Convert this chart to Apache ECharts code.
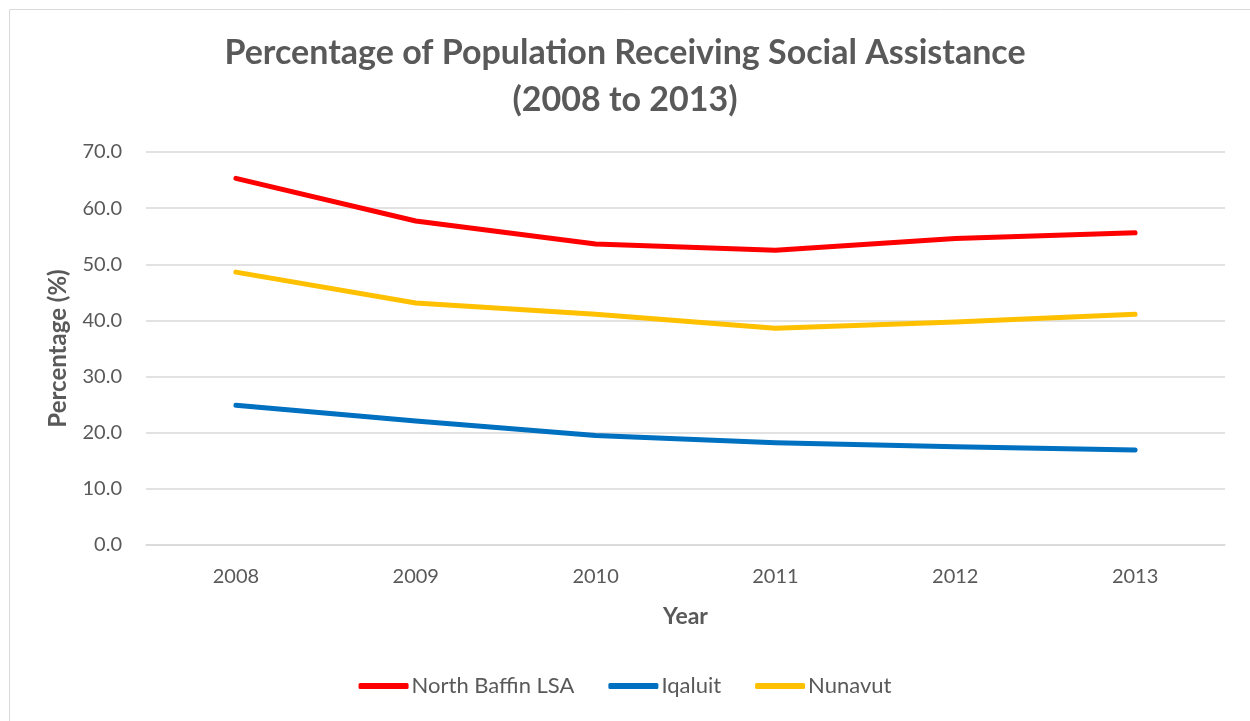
<!DOCTYPE html>
<html>
<head>
<meta charset="utf-8">
<script src="https://cdn.jsdelivr.net/npm/echarts@6/dist/echarts.min.js"></script>
<style>html,body{margin:0;padding:0;background:#fff;}#c{width:1250px;height:721px;}</style>
</head>
<body>
<div id="c"></div>
<script>
const years = ['2008','2009','2010','2011','2012','2013'];
const northBaffin = [65.3, 57.7, 53.6, 52.5, 54.6, 55.6];
const iqaluit = [24.9, 22.1, 19.5, 18.2, 17.5, 16.9];
const nunavut = [48.6, 43.1, 41.1, 38.6, 39.7, 41.1];
const yTicks = [0, 10, 20, 30, 40, 50, 60, 70];

const FONT = 'Lato, "Open Sans", sans-serif';
const chart = echarts.init(document.getElementById('c'), null, {renderer: 'canvas'});
chart.setOption({
  animation: false,
  backgroundColor: '#fff',
  textStyle: {fontFamily: FONT},
  graphic: [{
    type: 'rect', left: 7, top: 7,
    shape: {width: 1300, height: 800},
    style: {fill: 'none', stroke: '#d9d9d9', lineWidth: 1}
  }],
  title: {
    text: 'Percentage of Population Receiving Social Assistance\n(2008 to 2013)',
    left: 'center', top: 25,
    textStyle: {fontFamily: FONT, fontSize: 34, fontWeight: 'bold', color: '#595959', lineHeight: 47}
  },
  legend: {
    bottom: 19, left: 'center',
    icon: 'roundRect',
    itemWidth: 50, itemHeight: 6, itemGap: 34,
    textStyle: {fontFamily: FONT, fontSize: 22, color: '#595959', padding: [0,0,0,-2]},
    data: ['North Baffin LSA', 'Iqaluit', 'Nunavut']
  },
  grid: {left: 146, right: 25, top: 152, bottom: 176, containLabel: false},
  xAxis: {
    type: 'category', data: years, boundaryGap: true,
    name: 'Year', nameLocation: 'middle', nameGap: 60,
    nameTextStyle: {fontFamily: FONT, fontSize: 23, fontWeight: 'bold', color: '#595959'},
    axisLine: {lineStyle: {color: '#d9d9d9', width: 1.5}},
    axisTick: {show: false},
    axisLabel: {fontFamily: FONT, fontSize: 20, color: '#595959', margin: 22}
  },
  yAxis: {
    type: 'value', min: 0, max: 70, interval: 10,
    name: 'Percentage (%)', nameLocation: 'middle', nameGap: 76,
    nameTextStyle: {fontFamily: FONT, fontSize: 24, fontWeight: 'bold', color: '#595959'},
    axisLine: {show: false}, axisTick: {show: false},
    axisLabel: {fontFamily: FONT, fontSize: 20, color: '#595959', margin: 24,
      formatter: v => yTicks.includes(v) ? v.toFixed(1) : ''},
    splitLine: {lineStyle: {color: '#d9d9d9', width: 1.5}}
  },
  series: [
    {name: 'North Baffin LSA', type: 'line', data: northBaffin, symbol: 'none',
     lineStyle: {color: '#ff0000', width: 5, cap: 'round', join: 'round'}, itemStyle: {color: '#ff0000'}},
    {name: 'Iqaluit', type: 'line', data: iqaluit, symbol: 'none',
     lineStyle: {color: '#0070c0', width: 5, cap: 'round', join: 'round'}, itemStyle: {color: '#0070c0'}},
    {name: 'Nunavut', type: 'line', data: nunavut, symbol: 'none',
     lineStyle: {color: '#ffc000', width: 5, cap: 'round', join: 'round'}, itemStyle: {color: '#ffc000'}}
  ]
});
</script>
</body>
</html>
